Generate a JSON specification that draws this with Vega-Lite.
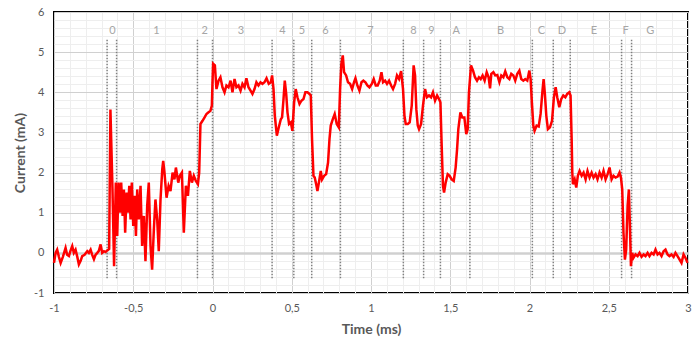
{
  "$schema": "https://vega.github.io/schema/vega-lite/v6.json",
  "width": 634,
  "height": 281,
  "autosize": {"type": "none"},
  "padding": {"left": 54, "top": 12, "right": 12, "bottom": 57},
  "background": "white",
  "config": {
    "view": {"stroke": "#000000", "strokeWidth": 2},
    "font": "Lato",
    "axis": {"grid": true, "domain": false, "ticks": false, "labelOverlap": false, "labelFontSize": 11, "labelColor": "#595959", "titleFontSize": 14, "titleFontWeight": "bold", "titleColor": "#595959"}
  },
  "datasets": {
    "bounds": [
      {"time": -0.665}, {"time": -0.605}, {"time": -0.095}, {"time": 0.0}, {"time": 0.376}, {"time": 0.513},
      {"time": 0.626}, {"time": 0.807}, {"time": 1.204}, {"time": 1.332}, {"time": 1.438}, {"time": 1.624},
      {"time": 2.018}, {"time": 2.15}, {"time": 2.257}, {"time": 2.581}, {"time": 2.644}
    ],
    "phases": [
      {"time": -0.631, "label": "0"}, {"time": -0.353, "label": "1"}, {"time": -0.049, "label": "2"},
      {"time": 0.18, "label": "3"}, {"time": 0.441, "label": "4"}, {"time": 0.565, "label": "5"},
      {"time": 0.712, "label": "6"}, {"time": 0.996, "label": "7"}, {"time": 1.267, "label": "8"},
      {"time": 1.381, "label": "9"}, {"time": 1.538, "label": "A"}, {"time": 1.818, "label": "B"},
      {"time": 2.076, "label": "C"}, {"time": 2.204, "label": "D"}, {"time": 2.406, "label": "E"},
      {"time": 2.606, "label": "F"}, {"time": 2.762, "label": "G"}
    ],
    "trace": [
      {"time":-1.0,"current":-0.25},{"time":-0.99,"current":0.0},{"time":-0.98,"current":0.08},{"time":-0.969,"current":-0.1},{"time":-0.958,"current":-0.25},{"time":-0.944,"current":-0.1},{"time":-0.927,"current":0.125},{"time":-0.917,"current":-0.05},{"time":-0.906,"current":-0.08},{"time":-0.896,"current":0.05},{"time":-0.885,"current":0.17},{"time":-0.875,"current":0.0},{"time":-0.864,"current":0.08},{"time":-0.853,"current":-0.1},{"time":-0.843,"current":-0.29},{"time":-0.832,"current":-0.2},{"time":-0.822,"current":-0.08},{"time":-0.807,"current":-0.05},{"time":-0.79,"current":0.04},{"time":-0.78,"current":0.0},{"time":-0.769,"current":0.08},{"time":-0.759,"current":-0.05},{"time":-0.748,"current":-0.16},{"time":-0.738,"current":-0.05},{"time":-0.727,"current":0.0},{"time":-0.717,"current":0.05},{"time":-0.706,"current":0.21},{"time":-0.696,"current":0.0},{"time":-0.685,"current":0.04},{"time":-0.675,"current":0.02},{"time":-0.664,"current":0.06},{"time":-0.652,"current":0.1},
      {"time":-0.644,"current":3.57},{"time":-0.631,"current":1.58},{"time":-0.621,"current":-0.33},{"time":-0.61,"current":1.75},{"time":-0.601,"current":0.42},{"time":-0.593,"current":1.75},{"time":-0.584,"current":1.0},{"time":-0.576,"current":1.75},{"time":-0.567,"current":0.92},{"time":-0.559,"current":1.58},{"time":-0.551,"current":0.5},{"time":-0.542,"current":1.5},{"time":-0.534,"current":1.0},{"time":-0.525,"current":1.67},{"time":-0.517,"current":0.83},{"time":-0.509,"current":1.75},{"time":-0.5,"current":0.67},{"time":-0.492,"current":1.42},{"time":-0.483,"current":0.42},{"time":-0.475,"current":1.58},{"time":-0.465,"current":0.83},{"time":-0.454,"current":1.67},{"time":-0.444,"current":0.17},{"time":-0.433,"current":0.92},{"time":-0.423,"current":-0.21},{"time":-0.412,"current":1.17},{"time":-0.402,"current":1.75},{"time":-0.391,"current":0.17},{"time":-0.381,"current":-0.42},{"time":-0.37,"current":0.58},{"time":-0.36,"current":1.33},{"time":-0.349,"current":0.83},{"time":-0.339,"current":0.04},{"time":-0.328,"current":1.33},{"time":-0.317,"current":2.08},{"time":-0.311,"current":2.29},
      {"time":-0.303,"current":2.0},{"time":-0.29,"current":1.375},{"time":-0.277,"current":1.67},{"time":-0.265,"current":1.54},{"time":-0.252,"current":2.0},{"time":-0.24,"current":1.83},{"time":-0.231,"current":2.125},{"time":-0.216,"current":1.75},{"time":-0.206,"current":1.92},{"time":-0.193,"current":2.0},{"time":-0.181,"current":0.5},{"time":-0.168,"current":1.67},{"time":-0.155,"current":1.42},{"time":-0.143,"current":2.04},{"time":-0.13,"current":1.75},{"time":-0.118,"current":1.92},{"time":-0.105,"current":1.79},{"time":-0.092,"current":1.71},{"time":-0.084,"current":2.0},{"time":-0.076,"current":3.21},{"time":-0.063,"current":3.29},{"time":-0.05,"current":3.375},{"time":-0.038,"current":3.46},{"time":-0.025,"current":3.5},{"time":-0.013,"current":3.54},{"time":-0.004,"current":3.67},{"time":0.0,"current":4.25},{"time":0.004,"current":4.71},{"time":0.015,"current":4.67},{"time":0.025,"current":4.08},{"time":0.038,"current":4.29},{"time":0.05,"current":4.375},{"time":0.063,"current":4.125},{"time":0.076,"current":4.0},{"time":0.088,"current":4.17},{"time":0.101,"current":4.125},{"time":0.114,"current":4.29},{"time":0.126,"current":4.0},{"time":0.139,"current":4.33},{"time":0.151,"current":4.125},{"time":0.164,"current":4.17},{"time":0.177,"current":4.04},{"time":0.189,"current":4.21},{"time":0.202,"current":4.125},{"time":0.214,"current":4.35},{"time":0.227,"current":4.125},{"time":0.24,"current":4.04},{"time":0.252,"current":3.96},{"time":0.265,"current":4.08},{"time":0.277,"current":4.25},{"time":0.29,"current":4.17},{"time":0.303,"current":4.25},{"time":0.315,"current":4.21},{"time":0.328,"current":4.25},{"time":0.341,"current":4.35},{"time":0.355,"current":4.21},{"time":0.368,"current":4.25},{"time":0.376,"current":4.42},
      {"time":0.385,"current":4.08},{"time":0.393,"current":3.42},{"time":0.406,"current":2.92},{"time":0.418,"current":3.125},{"time":0.431,"current":3.33},{"time":0.439,"current":3.375},{"time":0.448,"current":3.83},{"time":0.456,"current":4.29},{"time":0.465,"current":3.96},{"time":0.473,"current":3.5},{"time":0.483,"current":3.21},{"time":0.494,"current":3.25},{"time":0.504,"current":3.04},{"time":0.515,"current":3.75},{"time":0.525,"current":4.08},{"time":0.536,"current":3.875},{"time":0.549,"current":3.71},{"time":0.561,"current":3.79},{"time":0.574,"current":3.83},{"time":0.586,"current":4.0},{"time":0.599,"current":4.0},{"time":0.612,"current":3.96},{"time":0.62,"current":3.92},{"time":0.628,"current":2.83},{"time":0.637,"current":1.92},{"time":0.645,"current":1.875},{"time":0.656,"current":1.67},{"time":0.662,"current":1.54},{"time":0.673,"current":1.79},{"time":0.683,"current":2.04},{"time":0.691,"current":1.83},{"time":0.704,"current":1.92},{"time":0.717,"current":1.96},{"time":0.729,"current":2.25},{"time":0.738,"current":2.83},{"time":0.746,"current":3.17},{"time":0.759,"current":3.33},{"time":0.771,"current":3.46},{"time":0.784,"current":3.21},{"time":0.797,"current":3.125},{"time":0.805,"current":4.08},{"time":0.813,"current":4.71},{"time":0.822,"current":4.92},{"time":0.83,"current":4.5},{"time":0.843,"current":4.42},{"time":0.855,"current":4.25},{"time":0.868,"current":4.21},{"time":0.881,"current":4.08},{"time":0.893,"current":4.25},{"time":0.902,"current":4.35},{"time":0.914,"current":4.17},{"time":0.927,"current":4.04},{"time":0.94,"current":4.25},{"time":0.952,"current":4.29},{"time":0.965,"current":4.25},{"time":0.977,"current":4.17},{"time":0.99,"current":4.125},
      {"time":1.005,"current":4.21},{"time":1.017,"current":4.33},{"time":1.03,"current":4.17},{"time":1.042,"current":4.17},{"time":1.055,"current":4.29},{"time":1.066,"current":4.5},{"time":1.076,"current":4.25},{"time":1.089,"current":4.29},{"time":1.101,"current":4.21},{"time":1.114,"current":4.29},{"time":1.127,"current":4.17},{"time":1.139,"current":4.08},{"time":1.152,"current":4.21},{"time":1.164,"current":4.42},{"time":1.177,"current":4.33},{"time":1.19,"current":4.53},{"time":1.202,"current":4.08},{"time":1.211,"current":3.42},{"time":1.219,"current":3.21},{"time":1.232,"current":3.21},{"time":1.244,"current":3.25},{"time":1.257,"current":3.67},{"time":1.269,"current":4.67},{"time":1.278,"current":4.42},{"time":1.286,"current":3.58},{"time":1.295,"current":3.17},{"time":1.303,"current":3.08},{"time":1.316,"current":3.21},{"time":1.328,"current":3.67},{"time":1.341,"current":4.08},{"time":1.353,"current":3.875},{"time":1.366,"current":3.92},{"time":1.379,"current":3.875},{"time":1.391,"current":4.0},{"time":1.404,"current":3.79},{"time":1.417,"current":3.92},{"time":1.429,"current":3.83},{"time":1.438,"current":3.75},{"time":1.446,"current":2.67},{"time":1.454,"current":1.67},{"time":1.461,"current":1.5},{"time":1.471,"current":1.75},{"time":1.484,"current":1.96},{"time":1.496,"current":1.92},{"time":1.509,"current":1.83},{"time":1.522,"current":1.79},{"time":1.534,"current":2.125},{"time":1.543,"current":2.58},{"time":1.551,"current":3.08},{"time":1.564,"current":3.5},{"time":1.576,"current":3.375},{"time":1.589,"current":3.375},{"time":1.601,"current":2.96},{"time":1.61,"current":3.08},{"time":1.618,"current":4.0},{"time":1.631,"current":4.67},{"time":1.644,"current":4.54},{"time":1.656,"current":4.375},{"time":1.669,"current":4.29},{"time":1.681,"current":4.375},
      {"time":1.692,"current":4.33},{"time":1.704,"current":4.42},{"time":1.717,"current":4.29},{"time":1.73,"current":4.5},{"time":1.742,"current":4.375},{"time":1.751,"current":4.1},{"time":1.759,"current":4.46},{"time":1.772,"current":4.5},{"time":1.784,"current":4.42},{"time":1.797,"current":4.43},{"time":1.81,"current":4.25},{"time":1.822,"current":4.42},{"time":1.835,"current":4.375},{"time":1.847,"current":4.52},{"time":1.86,"current":4.375},{"time":1.873,"current":4.33},{"time":1.885,"current":4.46},{"time":1.898,"current":4.42},{"time":1.91,"current":4.29},{"time":1.923,"current":4.46},{"time":1.936,"current":4.54},{"time":1.948,"current":4.33},{"time":1.961,"current":4.29},{"time":1.973,"current":4.33},{"time":1.986,"current":4.29},{"time":1.999,"current":4.54},{"time":2.007,"current":4.33},{"time":2.015,"current":3.75},{"time":2.024,"current":3.17},{"time":2.032,"current":3.04},{"time":2.045,"current":3.17},{"time":2.058,"current":3.15},{"time":2.07,"current":3.46},{"time":2.081,"current":4.0},{"time":2.089,"current":4.33},{"time":2.097,"current":3.96},{"time":2.106,"current":3.42},{"time":2.116,"current":3.08},{"time":2.129,"current":3.125},{"time":2.142,"current":3.29},{"time":2.154,"current":3.875},{"time":2.165,"current":4.125},{"time":2.175,"current":3.875},{"time":2.188,"current":3.625},{"time":2.2,"current":3.83},{"time":2.213,"current":3.92},{"time":2.226,"current":3.875},{"time":2.238,"current":3.96},{"time":2.251,"current":4.0},{"time":2.259,"current":3.92},{"time":2.266,"current":2.83},{"time":2.27,"current":2.0},{"time":2.274,"current":1.71},{"time":2.285,"current":1.83},{"time":2.295,"current":1.625},{"time":2.305,"current":1.92},
      {"time":2.316,"current":2.04},{"time":2.329,"current":1.92},{"time":2.341,"current":2.0},{"time":2.354,"current":1.83},{"time":2.366,"current":2.04},{"time":2.379,"current":1.875},{"time":2.392,"current":2.0},{"time":2.404,"current":1.875},{"time":2.417,"current":1.96},{"time":2.429,"current":1.83},{"time":2.442,"current":2.0},{"time":2.455,"current":1.875},{"time":2.467,"current":2.04},{"time":2.48,"current":1.83},{"time":2.493,"current":1.96},{"time":2.505,"current":2.125},{"time":2.518,"current":1.83},{"time":2.53,"current":1.92},{"time":2.543,"current":1.875},{"time":2.556,"current":1.9},{"time":2.568,"current":2.0},{"time":2.577,"current":1.875},{"time":2.585,"current":1.58},{"time":2.593,"current":0.5},{"time":2.602,"current":-0.17},{"time":2.61,"current":0.08},{"time":2.619,"current":1.17},{"time":2.627,"current":1.58},{"time":2.633,"current":0.75},{"time":2.64,"current":-0.33},{"time":2.648,"current":0.0},{"time":2.656,"current":-0.125},{"time":2.669,"current":-0.04},{"time":2.682,"current":-0.08},{"time":2.694,"current":0.0},{"time":2.707,"current":-0.1},{"time":2.72,"current":-0.04},{"time":2.732,"current":-0.08},{"time":2.745,"current":0.0},{"time":2.757,"current":-0.08},{"time":2.77,"current":0.0},{"time":2.783,"current":-0.04},{"time":2.795,"current":0.08},{"time":2.808,"current":-0.04},{"time":2.82,"current":0.0},{"time":2.833,"current":-0.08},{"time":2.846,"current":0.04},{"time":2.858,"current":0.08},{"time":2.871,"current":-0.04},{"time":2.883,"current":-0.08},{"time":2.896,"current":-0.04},{"time":2.909,"current":-0.1},{"time":2.921,"current":0.0},{"time":2.934,"current":-0.08},{"time":2.947,"current":-0.17},{"time":2.959,"current":-0.25},{"time":2.972,"current":-0.04},{"time":2.984,"current":-0.125},{"time":2.997,"current":-0.25}
    ]
  },
  "layer": [
    {
      "data": {"name": "bounds"},
      "mark": {"type": "rule", "color": "#808080", "strokeDash": [1.5, 1.5], "strokeWidth": 1.5},
      "encoding": {
        "x": {
          "field": "time", "type": "quantitative",
          "scale": {"domain": [-1, 3], "nice": false, "zero": false},
          "axis": {
            "values": [-1,-0.9,-0.8,-0.7,-0.6,-0.5,-0.4,-0.3,-0.2,-0.1,0,0.1,0.2,0.3,0.4,0.5,0.6,0.7,0.8,0.9,1,1.1,1.2,1.3,1.4,1.5,1.6,1.7,1.8,1.9,2,2.1,2.2,2.3,2.4,2.5,2.6,2.7,2.8,2.9,3],
            "labelExpr": "abs(datum.value*2 - round(datum.value*2)) < 0.001 ? (datum.value < 0 ? '-' : '') + replace(format(abs(datum.value), '~g'), '.', ',') : ''",
            "gridColor": {"condition": {"test": "abs(datum.value*2 - round(datum.value*2)) < 0.001", "value": "#d0d0d0"}, "value": "#eeeeee"},
            "grid": true, "labelFlush": false, "labelOverlap": false,
            "labelPadding": 9, "title": "Time (ms)", "titlePadding": 9
          }
        },
        "y": {
          "datum": -0.63, "type": "quantitative",
          "scale": {"domain": [-1, 6], "nice": false, "zero": false},
          "axis": {
            "values": [-1,-0.8,-0.6,-0.4,-0.2,0,0.2,0.4,0.6,0.8,1,1.2,1.4,1.6,1.8,2,2.2,2.4,2.6,2.8,3,3.2,3.4,3.6,3.8,4,4.2,4.4,4.6,4.8,5,5.2,5.4,5.6,5.8,6],
            "labelExpr": "abs(datum.value - round(datum.value)) < 0.001 ? (datum.value < 0 ? '-' : '') + format(abs(datum.value), 'd') : ''",
            "gridColor": {"condition": {"test": "abs(datum.value - round(datum.value)) < 0.001", "value": "#d0d0d0"}, "value": "#eeeeee"},
            "gridWidth": {"condition": {"test": "abs(datum.value) < 0.001", "value": 2.5}, "value": 1},
            "grid": true, "labelOverlap": false,
            "labelPadding": 10, "title": "Current (mA)", "titlePadding": 6
          }
        },
        "y2": {"datum": 5.33}
      }
    },
    {
      "data": {"name": "phases"},
      "mark": {"type": "text", "color": "#a6a6a6", "fontSize": 11, "baseline": "middle", "align": "center"},
      "encoding": {
        "x": {
          "field": "time", "type": "quantitative",
          "scale": {"domain": [-1, 3], "nice": false, "zero": false},
          "axis": {
            "values": [-1,-0.9,-0.8,-0.7,-0.6,-0.5,-0.4,-0.3,-0.2,-0.1,0,0.1,0.2,0.3,0.4,0.5,0.6,0.7,0.8,0.9,1,1.1,1.2,1.3,1.4,1.5,1.6,1.7,1.8,1.9,2,2.1,2.2,2.3,2.4,2.5,2.6,2.7,2.8,2.9,3],
            "labelExpr": "abs(datum.value*2 - round(datum.value*2)) < 0.001 ? (datum.value < 0 ? '-' : '') + replace(format(abs(datum.value), '~g'), '.', ',') : ''",
            "gridColor": {"condition": {"test": "abs(datum.value*2 - round(datum.value*2)) < 0.001", "value": "#d0d0d0"}, "value": "#eeeeee"},
            "grid": true, "labelFlush": false, "labelOverlap": false,
            "labelPadding": 9, "title": "Time (ms)", "titlePadding": 9
          }
        },
        "y": {
          "datum": 5.525, "type": "quantitative",
          "scale": {"domain": [-1, 6], "nice": false, "zero": false},
          "axis": {
            "values": [-1,-0.8,-0.6,-0.4,-0.2,0,0.2,0.4,0.6,0.8,1,1.2,1.4,1.6,1.8,2,2.2,2.4,2.6,2.8,3,3.2,3.4,3.6,3.8,4,4.2,4.4,4.6,4.8,5,5.2,5.4,5.6,5.8,6],
            "labelExpr": "abs(datum.value - round(datum.value)) < 0.001 ? (datum.value < 0 ? '-' : '') + format(abs(datum.value), 'd') : ''",
            "gridColor": {"condition": {"test": "abs(datum.value - round(datum.value)) < 0.001", "value": "#d0d0d0"}, "value": "#eeeeee"},
            "gridWidth": {"condition": {"test": "abs(datum.value) < 0.001", "value": 2.5}, "value": 1},
            "grid": true, "labelOverlap": false,
            "labelPadding": 10, "title": "Current (mA)", "titlePadding": 6
          }
        },
        "text": {"field": "label"}
      }
    },
    {
      "data": {"name": "trace"},
      "mark": {"type": "line", "color": "#ff0000", "strokeWidth": 2.5},
      "encoding": {
        "x": {
          "field": "time", "type": "quantitative",
          "scale": {"domain": [-1, 3], "nice": false, "zero": false},
          "axis": {
            "values": [-1,-0.9,-0.8,-0.7,-0.6,-0.5,-0.4,-0.3,-0.2,-0.1,0,0.1,0.2,0.3,0.4,0.5,0.6,0.7,0.8,0.9,1,1.1,1.2,1.3,1.4,1.5,1.6,1.7,1.8,1.9,2,2.1,2.2,2.3,2.4,2.5,2.6,2.7,2.8,2.9,3],
            "labelExpr": "abs(datum.value*2 - round(datum.value*2)) < 0.001 ? (datum.value < 0 ? '-' : '') + replace(format(abs(datum.value), '~g'), '.', ',') : ''",
            "gridColor": {"condition": {"test": "abs(datum.value*2 - round(datum.value*2)) < 0.001", "value": "#d0d0d0"}, "value": "#eeeeee"},
            "grid": true, "labelFlush": false, "labelOverlap": false,
            "labelPadding": 9, "title": "Time (ms)", "titlePadding": 9
          }
        },
        "y": {
          "field": "current", "type": "quantitative",
          "scale": {"domain": [-1, 6], "nice": false, "zero": false},
          "axis": {
            "values": [-1,-0.8,-0.6,-0.4,-0.2,0,0.2,0.4,0.6,0.8,1,1.2,1.4,1.6,1.8,2,2.2,2.4,2.6,2.8,3,3.2,3.4,3.6,3.8,4,4.2,4.4,4.6,4.8,5,5.2,5.4,5.6,5.8,6],
            "labelExpr": "abs(datum.value - round(datum.value)) < 0.001 ? (datum.value < 0 ? '-' : '') + format(abs(datum.value), 'd') : ''",
            "gridColor": {"condition": {"test": "abs(datum.value - round(datum.value)) < 0.001", "value": "#d0d0d0"}, "value": "#eeeeee"},
            "gridWidth": {"condition": {"test": "abs(datum.value) < 0.001", "value": 2.5}, "value": 1},
            "grid": true, "labelOverlap": false,
            "labelPadding": 10, "title": "Current (mA)", "titlePadding": 6
          }
        }
      }
    }
  ]
}
